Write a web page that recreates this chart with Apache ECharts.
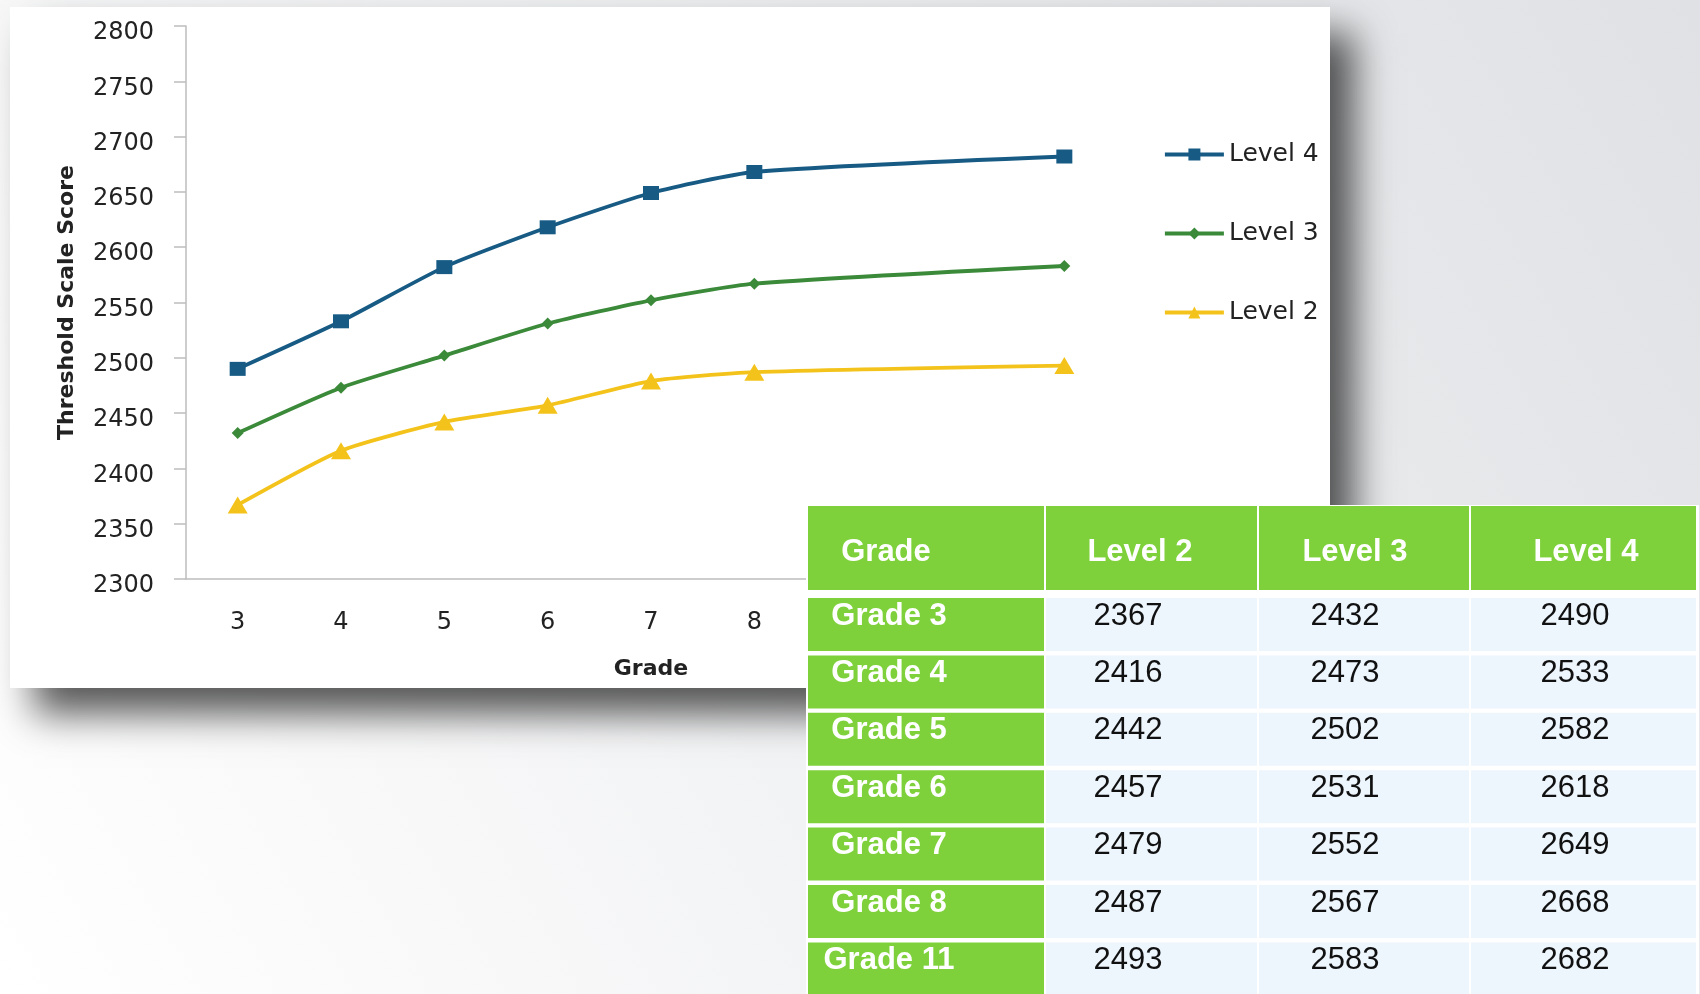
<!DOCTYPE html>
<html>
<head>
<meta charset="utf-8">
<title>Threshold Scale Score by Grade</title>
<script src="https://cdn.jsdelivr.net/npm/echarts@6/dist/echarts.min.js"></script>
<style>
    html, body { margin: 0; padding: 0; background: #fff; }
    #score_graph { width: 1700px; height: 994px; }
</style>
</head>
<body>
<div id="score_graph"></div>
<script>
// x axis ticks (9 and 10 have no data, the line jumps from 8 to 11)
const gradeTicks = ["3", "4", "5", "6", "7", "8", "9", "10", "11"];
const grades = ["3", "4", "5", "6", "7", "8", "11"];
const gradeNames = ["Grade 3", "Grade 4", "Grade 5", "Grade 6", "Grade 7", "Grade 8", "Grade 11"];

const level2 = [2367, 2416, 2442, 2457, 2479, 2487, 2493];
const level3 = [2432, 2473, 2502, 2531, 2552, 2567, 2583];
const level4 = [2490, 2533, 2582, 2618, 2649, 2668, 2682];

const tableHeader = ["Grade", "Level 2", "Level 3", "Level 4"];

const chartFont = "DejaVu Sans";
const tableFont = "Liberation Sans";
const green = "#7fd13b";
const textColor = "#222222";

const levels = [
    { name: "Level 2", data: level2, color: "#f3c31c", symbol: "triangle", size: [20, 17] },
    { name: "Level 3", data: level3, color: "#3b8a3a", symbol: "diamond", size: 12 },
    { name: "Level 4", data: level4, color: "#175b85", symbol: "rect", size: [16, 14] },
];

const series = levels.map(lv => ({
    name: lv.name,
    type: "line",
    smooth: 0.2,
    symbol: lv.symbol,
    symbolSize: lv.size,
    data: grades.map((g, i) => [g, lv.data[i]]),
    itemStyle: { color: lv.color },
    lineStyle: { color: lv.color, width: 3.8 },
    emphasis: { disabled: true },
}));

const buildTable = () => {
    const els = [];
    const colEdges = [807, 1045, 1258, 1470, 1697];
    const headTop = 506, headBottom = 590;
    const rowTop = 598, rowStep = 57.4, rowH = 53;
    const headTextX = [886, 1140, 1355, 1586];
    const cellTextX = [889, 1128, 1345, 1575];

    // white backing shows through as the cell borders
    els.push({
        type: "rect", z: 100,
        shape: { x: colEdges[0] - 1, y: headTop - 1, width: colEdges[4] - colEdges[0] + 3, height: 994 - headTop + 1 },
        style: { fill: "#ffffff" }
    });

    tableHeader.forEach((txt, c) => {
        els.push({
            type: "rect", z: 101,
            shape: { x: colEdges[c] + 1, y: headTop, width: colEdges[c + 1] - colEdges[c] - 2, height: headBottom - headTop },
            style: { fill: green }
        });
        els.push({
            type: "text", z: 102,
            style: {
                text: txt, x: headTextX[c], y: (headTop + headBottom) / 2 + 4,
                align: "center", verticalAlign: "middle",
                fontFamily: tableFont, fontWeight: "bold", fontSize: 31, fill: "#ffffff"
            }
        });
    });

    gradeNames.forEach((g, r) => {
        const top = rowTop + r * rowStep;
        const cells = [g, level2[r], level3[r], level4[r]];
        cells.forEach((v, c) => {
            els.push({
                type: "rect", z: 101,
                shape: { x: colEdges[c] + 1, y: top, width: colEdges[c + 1] - colEdges[c] - 2, height: rowH },
                style: { fill: c === 0 ? green : "#edf5fd" }
            });
            els.push({
                type: "text", z: 102,
                style: {
                    text: String(v), x: cellTextX[c], y: top + 18,
                    align: "center", verticalAlign: "middle",
                    fontFamily: tableFont, fontWeight: c === 0 ? "bold" : "normal", fontSize: 31,
                    fill: c === 0 ? "#ffffff" : "#111111"
                }
            });
        });
    });
    return els;
};

const drawScoreChart = () => {
    const chart = echarts.init(document.getElementById("score_graph"));

    const option = {
        animation: false,
        graphic: [
            {
                type: "rect", z: -100,
                shape: { x: 0, y: 0, width: 1700, height: 994 },
                style: {
                    fill: new echarts.graphic.LinearGradient(0, 1, 1, 0, [
                        { offset: 0, color: "#ffffff" },
                        { offset: 1, color: "#dfe1e4" }
                    ])
                }
            },
            {
                type: "rect", z: -50,
                shape: { x: 10, y: 7, width: 1320, height: 681 },
                style: {
                    fill: "#ffffff",
                    shadowBlur: 36,
                    shadowOffsetX: 24,
                    shadowOffsetY: 26,
                    shadowColor: "rgba(0,0,0,0.65)"
                }
            },
            ...buildTable()
        ],
        legend: {
            orient: "vertical",
            left: 1163,
            top: 142,
            padding: 0,
            itemWidth: 59,
            itemHeight: 15,
            itemGap: 54,
            data: ["Level 4", "Level 3", "Level 2"],
            lineStyle: { width: 3.8 },
            textStyle: { fontFamily: chartFont, fontSize: 25, color: textColor }
        },
        grid: {
            left: 186,
            right: 584,
            top: 26,
            bottom: 415
        },
        xAxis: {
            type: "category",
            data: gradeTicks,
            name: "Grade",
            nameLocation: "middle",
            nameGap: 79,
            nameTextStyle: { fontFamily: chartFont, fontWeight: "bold", fontSize: 22, color: textColor },
            axisLine: { lineStyle: { color: "#bdbdbd", width: 1.5 } },
            axisTick: { length: 10, lineStyle: { color: "#bdbdbd", width: 1.5 } },
            axisLabel: { margin: 32, fontFamily: chartFont, fontSize: 24, color: textColor },
            splitLine: { show: false }
        },
        yAxis: {
            type: "value",
            min: 2300,
            max: 2800,
            interval: 50,
            name: "Threshold Scale Score",
            nameLocation: "middle",
            nameGap: 108,
            nameTextStyle: { fontFamily: chartFont, fontWeight: "bold", fontSize: 22, color: textColor },
            axisLine: { show: true, lineStyle: { color: "#bdbdbd", width: 1.5 } },
            axisTick: { show: true, length: 12, lineStyle: { color: "#bdbdbd", width: 1.5 } },
            axisLabel: {
                margin: 32, fontFamily: chartFont, fontSize: 24, color: textColor,
                verticalAlign: "top",
                lineHeight: 14,
                formatter: (value) => String(value)
            },
            splitLine: { show: false }
        },
        series: series
    };

    chart.setOption(option);
};

document.addEventListener("DOMContentLoaded", () => {
    drawScoreChart();
});
</script>
</body>
</html>
